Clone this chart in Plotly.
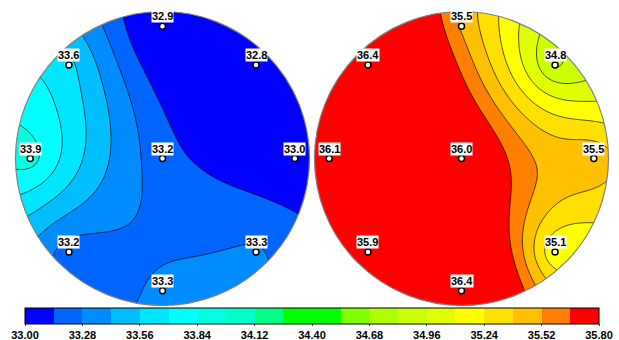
import numpy as np
import plotly.graph_objects as go

# ---- data: site values (center, then top, top-right, right, bottom-right, bottom, bottom-left, left, top-left)
site_names = ["C", "T", "TR", "R", "BR", "B", "BL", "L", "TL"]
left_values = [33.2, 32.9, 32.8, 33.0, 33.3, 33.3, 33.2, 33.9, 33.6]
right_values = [36.0, 35.5, 34.8, 35.5, 35.1, 36.4, 35.9, 36.1, 36.4]
tick_values = [33.00, 33.28, 33.56, 33.84, 34.12, 34.40, 34.68, 34.96, 35.24, 35.52, 35.80]
band_colors = ['#0000FF', '#0064FF', '#008CFF', '#00BEFF', '#00E6FF', '#00FFFF', '#00FFDF',
               '#00FFC8', '#00FF85', '#00FF00', '#00FF00', '#80FF00', '#AEFF00', '#CCFF00',
               '#E2FF00', '#FFFF00', '#FFE000', '#FFC000', '#FF8000', '#FF0000']

# ---- layout geometry
W, H = 619, 340
site_angles = [None, 90, 45, 0, -45, -90, -135, 180, 135]
site_r = 0.9
px = np.array([0.0] + [site_r * np.cos(np.radians(a)) for a in site_angles[1:]])
py = np.array([0.0] + [site_r * np.sin(np.radians(a)) for a in site_angles[1:]])


def kriging_linear(vals, g):
    # ordinary kriging with a linear variogram
    v = np.asarray(vals, float)
    n = len(v)
    D = np.hypot(px[:, None] - px[None, :], py[:, None] - py[None, :])
    A = np.zeros((n + 1, n + 1))
    A[:n, :n] = D
    A[:n, n] = 1
    A[n, :n] = 1
    sol = np.linalg.solve(A, np.concatenate([v, [0.0]]))
    w, c = sol[:n], sol[n]
    GX, GY = np.meshgrid(g, g)
    Z = np.full_like(GX, c)
    for i in range(n):
        Z = Z + w[i] * np.hypot(GX - px[i], GY - py[i])
    return Z


g = np.linspace(-1.005, 1.005, 281)
nb = len(band_colors)
stepped = []
for k, c in enumerate(band_colors):
    stepped.append([k / nb, c])
    stepped.append([(k + 1) / nb, c])

fig = go.Figure()

panels = [("x", "y", left_values), ("x2", "y2", right_values)]
for xa, ya, vals in panels:
    Z = kriging_linear(vals, g)
    fig.add_trace(go.Contour(
        x=g, y=g, z=Z, xaxis=xa, yaxis=ya,
        colorscale=stepped, showscale=False, autocontour=False,
        contours=dict(start=33.14, end=35.67, size=0.14, coloring='fill', showlines=True),
        line=dict(color='black', width=0.7, smoothing=1),
        hoverinfo='skip'))

# circle mask (rectangle minus circle) and outline
t = np.linspace(0, 2 * np.pi, 361)
circ = " ".join(("M" if i == 0 else "L") + f"{np.cos(a):.5f},{np.sin(a):.5f}" for i, a in enumerate(t)) + " Z"
rect = "M-1.2,-1.2 L-1.2,1.2 L1.2,1.2 L1.2,-1.2 Z "
shapes = []
for xa, ya, _ in panels:
    shapes.append(dict(type='path', xref=xa, yref=ya, path=rect + circ, fillcolor='white',
                       fillrule='evenodd', line=dict(width=0), layer='above'))
for xa, ya, _ in panels:
    shapes.append(dict(type='circle', xref=xa, yref=ya, x0=-1, x1=1, y0=-1, y1=1,
                       line=dict(color='#808080', width=1.2), layer='above'))

annotations = []
for xa, ya, vals in panels:
    fig.add_trace(go.Scatter(
        x=px, y=py, xaxis=xa, yaxis=ya, mode='markers', hoverinfo='skip', showlegend=False,
        marker=dict(size=6, color='white', line=dict(color='black', width=1.5))))
    for xi, yi, v in zip(px, py, vals):
        annotations.append(dict(x=xi, y=yi, xref=xa, yref=ya, text=f"<b>{v:.1f}</b>",
                                showarrow=False, yshift=10, bgcolor='white', borderpad=0,
                                font=dict(family='Liberation Sans, Arial', size=11, color='black')))

# colorbar carrier
fig.add_trace(go.Scatter(
    x=[0, 0], y=[0, 0], mode='markers', hoverinfo='skip', showlegend=False,
    marker=dict(size=1, opacity=0, color=[33.0, 35.8], cmin=33.0, cmax=35.8,
                colorscale=stepped, showscale=True,
                colorbar=dict(orientation='h', x=25 / W, xanchor='left', y=1 - 308 / H, yanchor='top',
                              xref='container', yref='container',
                              len=574, lenmode='pixels', thickness=16, thicknessmode='pixels',
                              xpad=0, ypad=0, outlinecolor='black', outlinewidth=1,
                              tickvals=tick_values, ticktext=[f"{v:.2f}" for v in tick_values],
                              ticks='outside', ticklen=2, tickcolor='#444',
                              tickfont=dict(family='Liberation Sans, Arial', size=11, color='black',
                                            weight='bold')))))

R = 147
ext = 1.02
half = R * ext
cy = 158.5
centers_x = [162.5, 461.5]
ydom = [(H - (cy + half)) / H, (H - (cy - half)) / H]
ax = dict(visible=False, range=[-ext, ext], showgrid=False, zeroline=False, fixedrange=True)
fig.update_layout(
    width=W, height=H, margin=dict(l=0, r=0, t=0, b=0, autoexpand=False),
    paper_bgcolor='white', plot_bgcolor='white', showlegend=False,
    xaxis=dict(ax, domain=[(centers_x[0] - half) / W, (centers_x[0] + half) / W]),
    yaxis=dict(ax, domain=ydom),
    xaxis2=dict(ax, domain=[(centers_x[1] - half) / W, (centers_x[1] + half) / W]),
    yaxis2=dict(ax, domain=ydom),
    shapes=shapes, annotations=annotations)

fig.write_html("out.html")
